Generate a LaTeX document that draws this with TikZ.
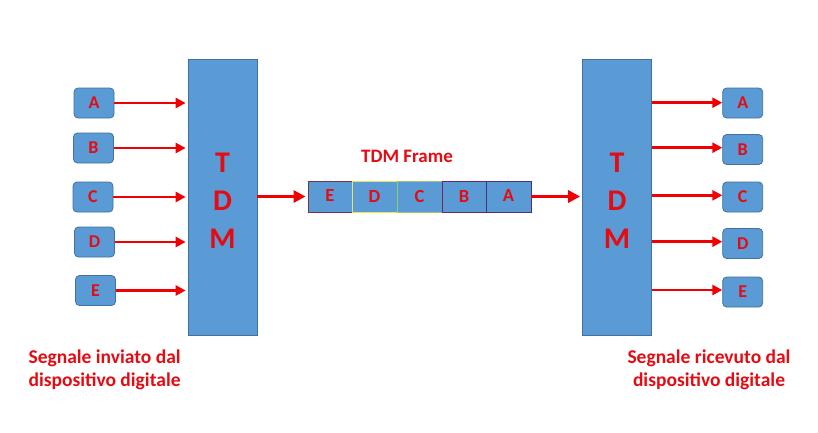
\documentclass[tikz,border=0pt]{standalone}
\usepackage{fontspec}
\setmainfont{Carlito}
\usetikzlibrary{arrows.meta}
\definecolor{boxblue}{RGB}{91,155,213}
\definecolor{boxedge}{RGB}{65,113,156}
\definecolor{txtred}{RGB}{228,12,18}
\definecolor{arrred}{RGB}{240,0,0}
\definecolor{cellE}{RGB}{120,50,80}
\definecolor{cellD}{RGB}{230,230,90}
\definecolor{cellC}{RGB}{150,200,110}
\definecolor{cellB}{RGB}{112,40,100}
\definecolor{cellA}{RGB}{70,50,130}
\begin{document}
\begin{tikzpicture}[x=1pt,y=-1pt,
  block/.style={draw=boxedge,fill=boxblue,line width=0.8pt,inner sep=0pt,minimum width=69pt,minimum height=276pt},
  chan/.style={draw=boxedge,fill=boxblue,line width=0.8pt,rounded corners=4pt,inner sep=0pt,minimum width=40pt,minimum height=30pt,text=txtred,font=\bfseries\fontsize{18}{20}\selectfont},
  cell/.style={draw=#1,fill=boxblue,line width=0.9pt,inner sep=0pt,minimum height=31pt,text=txtred,font=\bfseries\fontsize{18.5}{20}\selectfont},
  bigtxt/.style={text=txtred,align=center,font=\bfseries\fontsize{30}{38}\selectfont},
  lbl/.style={text=txtred,font=\bfseries\fontsize{19.5}{23.5}\selectfont},
  sarr/.style={draw=arrred,line width=2.8pt,-{Triangle[length=10pt,width=10pt]}},
  barr/.style={draw=arrred,line width=3.2pt,-{Triangle[length=12pt,width=12pt]}}
]
\useasboundingbox[fill=white] (0,0) rectangle (818,432);
% blocks
\node[block] (ltdm) at (222.5,197) {};
\node[block] (rtdm) at (617,197) {};
\node[bigtxt] (ltxt) at (222.5,201) {T\\D\\M};
\node[bigtxt] (rtxt) at (617,201) {T\\D\\M};
% left channels
\node[chan] (lA) at (94,103) {A};
\node[chan] (lB) at (93.5,148) {B};
\node[chan] (lC) at (93,197) {C};
\node[chan] (lD) at (94.5,242) {D};
\node[chan] (lE) at (95.5,290.5) {E};
% right channels
\node[chan] (rA) at (742.7,103) {A};
\node[chan] (rB) at (742.7,149.5) {B};
\node[chan] (rC) at (742.7,197) {C};
\node[chan] (rD) at (742.7,243.5) {D};
\node[chan] (rE) at (742.7,292) {E};
% left arrows
\foreach \n in {A,B,C,D,E}{
  \draw[sarr,shorten >=2pt] (l\n.east) -- (ltdm.west |- l\n.east);
}
% right arrows
\draw[sarr] (rtdm.east |- rA.west) ++(0,-0.3) coordinate (sA) (sA) -- (rA.west |- sA);
\draw[sarr] (rtdm.east |- rB.west) ++(0,-1.8) coordinate (sB) (sB) -- (rB.west |- sB);
\draw[sarr] (rtdm.east |- rC.west) ++(0,-1.7) coordinate (sC) (sC) -- (rC.west |- sC);
\draw[sarr] (rtdm.east |- rD.west) ++(0,-1.8) coordinate (sD) (sD) -- (rD.west |- sD);
\draw[sarr] (rtdm.east |- rE.west) ++(0,-2) coordinate (sE) (sE) -- (rE.west |- sE);
% frame
\node[cell=cellE,minimum width=44pt] (fE) at (330,196.5) {\raisebox{1.5pt}{E}};
\node[cell=cellD,minimum width=45pt] (fD) at (374.5,196.5) {D};
\node[cell=cellC,minimum width=45pt] (fC) at (419.5,196.5) {C};
\node[cell=cellB,minimum width=44pt] (fB) at (464,196.5) {\raisebox{-1pt}{B}};
\node[cell=cellA,minimum width=45pt] (fA) at (508.5,196.5) {\raisebox{2pt}{A}};
\node[text=txtred,font=\bfseries\fontsize{19}{22}\selectfont] (ftitle) at (407,156) {TDM Frame};
\draw[barr,shorten >=2pt] (ltdm.east |- fE.west) -- (fE.west);
\draw[barr,shorten >=2pt] (fA.east) -- (rtdm.west |- fA.east);
% labels
\node[lbl,anchor=west,align=left] (lsig) at (25,370) {Segnale inviato dal\\dispositivo digitale};
\node[lbl,align=center] (rsig) at (709,370) {Segnale ricevuto dal\\dispositivo digitale};
\end{tikzpicture}
\end{document}
